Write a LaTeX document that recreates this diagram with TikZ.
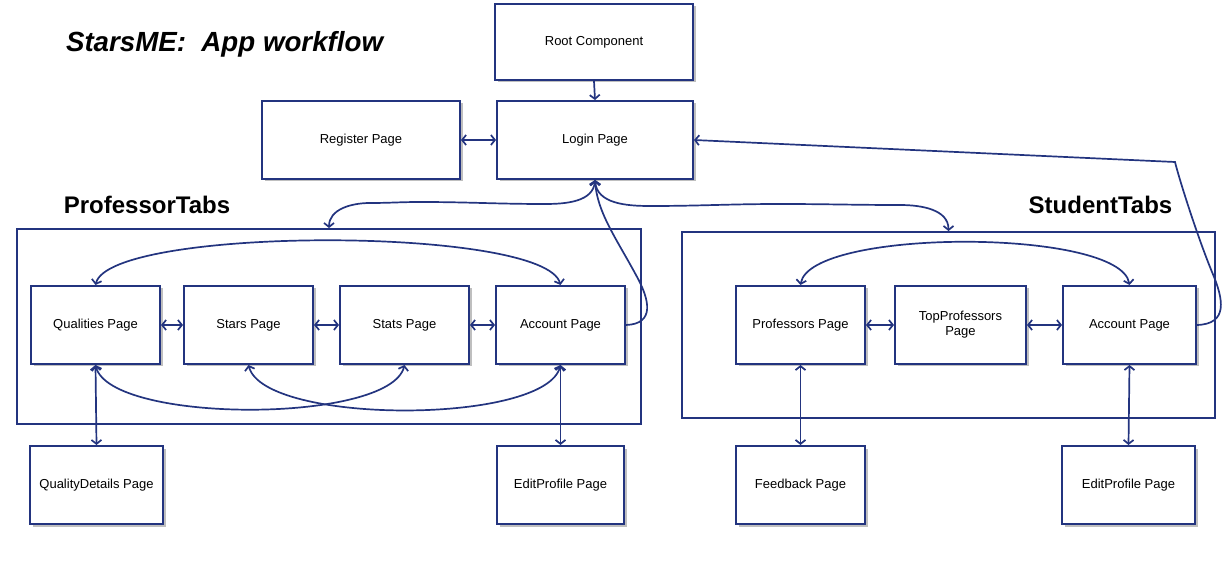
\documentclass[tikz,border=0pt]{standalone}
\usepackage{fontspec}
\setmainfont{Liberation Sans}
\usetikzlibrary{arrows.meta,shadows}
\definecolor{navy}{HTML}{23347F}
\begin{document}
\begin{tikzpicture}[x=1pt,y=-1pt, % ------ StarsME : pages de l'application ------
    page/.style={draw=navy,line width=2pt,fill=white,minimum height=78pt,
      font=\fontsize{13}{15}\selectfont,align=center,
      drop shadow={shadow xshift=2.5pt,shadow yshift=-2.5pt,fill=black,opacity=.25}},
    tabs/.style={draw=navy,line width=1.9pt},
    link/.style={draw=navy,line width=1.7pt,{Straight Barb[length=4pt,width=10pt]}-{Straight Barb[length=4pt,width=10pt]}},
    tolink/.style={draw=navy,line width=1.7pt,-{Straight Barb[length=4pt,width=10pt]}}]
    \useasboundingbox (0,0) rectangle (1227,577);
    \node [font=\fontsize{27.7}{32}\selectfont\bfseries\itshape,anchor=west] (title) at (62.5,44) {StarsME:\ \ App workflow};
    % les deux onglets
    \node [tabs,minimum width=624pt,minimum height=195pt] (profbox) at (329,326.5) {};
    \node [tabs,minimum width=533pt,minimum height=186pt] (studbox) at (948.5,325) {};
    \node [font=\fontsize{24}{28}\selectfont\bfseries] (proftitle) at (147,205) {ProfessorTabs};
    \node [font=\fontsize{24}{28}\selectfont\bfseries] (studtitle) at (1100.5,205) {StudentTabs};
    % pages du haut
    \node [page,minimum width=198pt,minimum height=76pt] (root) at (594,42) {Root Component};
    \node [page,minimum width=196pt] (login) at (595,140) {Login Page};
    \node [page,minimum width=198pt] (register) at (361,140) {Register Page};
    % ProfessorTabs
    \node [page,minimum width=129pt] (qual) at (95.5,325) {Qualities Page};
    \node [page,minimum width=129pt] (stars) at (248.5,325) {Stars Page};
    \node [page,minimum width=129pt] (stats) at (404.5,325) {Stats Page};
    \node [page,minimum width=129pt] (profacc) at (560.5,325) {Account Page};
    \node [page,minimum width=133pt] (qdet) at (96.5,485) {QualityDetails Page};
    \node [page,minimum width=127pt] (profedit) at (560.5,485) {EditProfile Page};
    % StudentTabs
    \node [page,minimum width=129pt] (profs) at (800.5,325) {Professors Page};
    \node [page,minimum width=131pt] (toppr) at (960.5,325) {TopProfessors\\Page};
    \node [page,minimum width=133pt] (studacc) at (1129.5,325) {Account Page};
    \node [page,minimum width=129pt] (feed) at (800.5,485) {Feedback Page};
    \node [page,minimum width=133pt] (studedit) at (1128.5,485) {EditProfile Page};
    % liens
    \draw [tolink] (root.south) -- (login.north);
    \draw [link] (register.east) -- (login.west);
    \draw [link] (login.south) to[out=-95,in=0] (545,204) to[out=180,in=0] (420,202)
      to[out=180,in=0] (370,203) to[out=180,in=90] (profbox.north);
    \draw [link] (login.south) to[out=-85,in=180] (650,206) to[out=0,in=180] (780,204)
      to[out=0,in=180] (900,205) to[out=0,in=90] (studbox.north);
    \draw [tolink] (profacc.east) .. controls (655,324) and (650,300) .. (636,275)
      .. controls (616,238) and (597,212) .. (login.south);
    \draw [tolink] (studacc.east) .. controls (1228,324) and (1224,300) .. (1212,272)
      .. controls (1198,238) and (1180,182) .. (1175,162) -- (login.east);
    \draw [link] (qual.north) .. controls (110,226) and (545,226) .. (profacc.north);
    \draw [link] (qual.east) -- (stars.west);
    \draw [link] (stars.east) -- (stats.west);
    \draw [link] (stats.east) -- (profacc.west);
    \draw [link] (qual.south) .. controls (110,424) and (390,424) .. (stats.south);
    \draw [link] (stars.south) .. controls (264,425) and (546,425) .. (profacc.south);
    \draw [link] (qual.south) -- (qdet.north);
    \draw [link] (profacc.south) -- (profedit.north);
    \draw [link] (profs.north) .. controls (810,228) and (1120,228) .. (studacc.north);
    \draw [link] (profs.east) -- (toppr.west);
    \draw [link] (toppr.east) -- (studacc.west);
    \draw [link] (profs.south) -- (feed.north);
    \draw [link] (studacc.south) -- (studedit.north);
\end{tikzpicture}
\end{document}
